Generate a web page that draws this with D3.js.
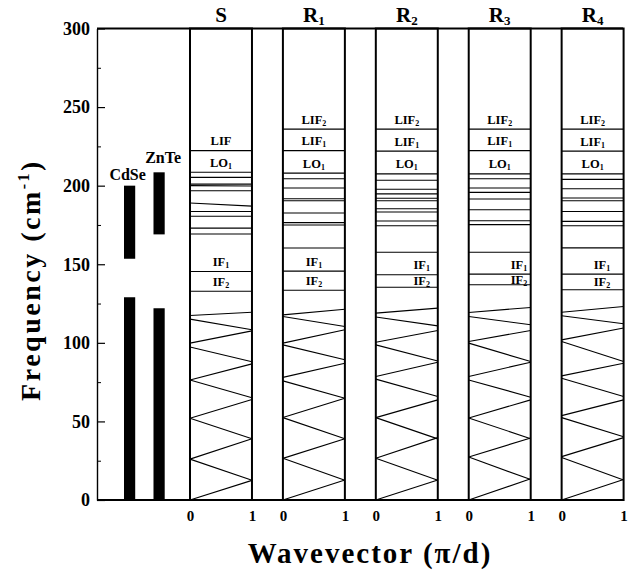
<!DOCTYPE html>
<html>
<head>
<meta charset="utf-8">
<script src="https://d3js.org/d3.v7.min.js"></script>
<style>
  body { margin: 0; background: #fff; }
  svg { font-family: "Liberation Serif", "Times New Roman", serif; font-weight: bold; }
</style>
</head>
<body>
<svg id="chart" width="631" height="574"></svg>
<script>
// ---- data ----
var panels = ["S", "R1", "R2", "R3", "R4"];
var panelTitles = [["S", ""], ["R", "1"], ["R", "2"], ["R", "3"], ["R", "4"]];

var yTicks = [0, 50, 100, 150, 200, 250, 300];
var yMinorTicks = [25, 75, 125, 175, 225, 275];
var kTicks = [0, 1];

// bulk optical bands (cm-1)
var bulkNames = ["CdSe", "ZnTe"];
var bulkCdSe = [[0, 129], [153.5, 200]];
var bulkZnTe = [[0, 122], [169, 208.5]];

// optical / interface modes: frequency at k=0 and k=1
var modesS = [[222.3, 222.3], [208.5, 208.5], [205.3, 205.3], [201, 201], [200, 199.8], [196.8, 196.8],
  [189, 187], [183.6, 183.6], [180.5, 180.5], [173, 173], [169.2, 169.2], [145.4, 145.4], [132.8, 132.8]];
var modesR1 = [[236, 236], [222.3, 222.3], [208, 208], [204.4, 204.4], [198.5, 198.5], [191.7, 191.7],
  [190.4, 190.4], [182.6, 182.6], [176.5, 176.5], [175, 175], [160.3, 160.3], [145.6, 145.6], [133.5, 133.5]];
var modesR2 = [[236, 236], [222, 222], [207.5, 207.5], [203.4, 203.4], [197.7, 197.7], [194.8, 194.8],
  [192, 192], [190.4, 190.4], [185.3, 185.3], [183.2, 183.2], [177.5, 177.5], [174.5, 174.5],
  [157.6, 157.6], [143.3, 143.3], [135.4, 135.4]];
var modesR3 = [[236, 236], [222.3, 222.3], [207.5, 207.5], [204.4, 204.4], [198.5, 198.5], [195.7, 195.7],
  [191.5, 191.5], [184.7, 184.7], [177.7, 177.7], [175.2, 175.2], [157.6, 157.6], [143.7, 143.7], [137, 137]];
var modesR4 = [[236, 236], [222, 222], [207.5, 207.5], [204, 204], [198, 198], [192.2, 192.2],
  [190.4, 190.4], [183.6, 183.6], [177.3, 177.3], [174.5, 174.5], [160.4, 160.4], [143.7, 143.7], [133.8, 133.8]];

// folded acoustic branches: frequency at k=0 and k=1
var acS = [[0, 12.5], [26, 12.5], [26, 39], [52, 39], [52, 64], [76.4, 65], [76.4, 86.6],
  [97.3, 88], [99.8, 107.6], [115.1, 108.3], [117.4, 119.5]];
var acR1 = [[0, 12.7], [26.5, 12.5], [26.5, 39], [52.4, 39], [52.5, 64.8], [75.8, 64.8], [78, 87],
  [98.7, 89.2], [99.8, 108.3], [116.8, 110.4], [117.8, 121.4]];
var acR2 = [[0, 12.7], [26.5, 12.5], [26.5, 39.7], [52.4, 38.9], [52.4, 63.7], [76.9, 65.8], [78.6, 87.7],
  [98.7, 88.5], [100.4, 107.9], [116.4, 110.8], [118.9, 122.1]];
var acR3 = [[0, 13.5], [27.3, 13], [27.3, 39.5], [52.2, 39], [52.2, 63.7], [76.4, 65.4], [78.6, 87.7],
  [99.8, 88.1], [100.8, 107.9], [116.8, 111.5], [119.3, 122.5]];
var acR4 = [[0, 13], [27, 12.7], [27.6, 39.7], [52.4, 40.3], [53.7, 63.7], [77.5, 65.8], [79, 87],
  [100.8, 88.1], [101.9, 109.4], [117.2, 112.1], [119.5, 123.1]];

// mode labels: [name, subscript, frequency of the labelled mode]
var labelsS = [["LIF", "", 222.3], ["LO", "1", 208.5], ["IF", "1", 145.4], ["IF", "2", 132.8]];
var labelsR1 = [["LIF", "2", 236], ["LIF", "1", 222.3], ["LO", "1", 208], ["IF", "1", 145.6], ["IF", "2", 133.5]];
var labelsR2 = [["LIF", "2", 236], ["LIF", "1", 222], ["LO", "1", 207.5], ["IF", "1", 143.3], ["IF", "2", 135.4]];
var labelsR3 = [["LIF", "2", 236], ["LIF", "1", 222.3], ["LO", "1", 207.5], ["IF", "1", 143.7], ["IF", "2", 137]];
var labelsR4 = [["LIF", "2", 236], ["LIF", "1", 222], ["LO", "1", 207.5], ["IF", "1", 143.7], ["IF", "2", 133.8]];

(function() {
  var modes = [modesS, modesR1, modesR2, modesR3, modesR4];
  var acoustic = [acS, acR1, acR2, acR3, acR4];
  var labels = [labelsS, labelsR1, labelsR2, labelsR3, labelsR4];
  var bulk = [bulkCdSe, bulkZnTe];
  var ifLabelPos = [0.5, 0.5, 0.74, 0.81, 0.65];   // horizontal place of IF labels in each panel
  var bulkLabelShift = [[-2, 6], [4, 9]];           // [dx, dy above band top] for CdSe / ZnTe
  var capH = 8.2;

  var mLeft = 97, mRight = 623, mTop = 28.5, mBottom = 500;
  var svg = d3.select("#chart");

  var y = d3.scaleLinear().domain([0, 300]).range([mBottom, mTop]);
  var px = d3.scaleBand().domain(panels).range([190, 623.6]).paddingInner(0.333).paddingOuter(0);
  var bx = d3.scaleBand().domain(bulkNames).range([124, 164.7]).paddingInner(0.62).paddingOuter(0);

  // frame lines
  svg.append("line").attr("x1", mLeft).attr("x2", mRight).attr("y1", mTop).attr("y2", mTop)
    .attr("stroke", "#000").attr("stroke-width", 2);
  svg.append("line").attr("x1", mLeft).attr("x2", mRight).attr("y1", mBottom).attr("y2", mBottom)
    .attr("stroke", "#000").attr("stroke-width", 1.8);

  // y axis
  var yAxis = d3.axisLeft(y).tickValues(yTicks).tickSizeInner(-8).tickSizeOuter(0).tickPadding(7);
  var ga = svg.append("g").attr("transform", "translate(" + mLeft + ",0)").call(yAxis);
  ga.attr("font-size", 18).attr("font-family", null);
  ga.select(".domain").attr("stroke-width", 1.4);
  ga.selectAll(".tick line").attr("stroke-width", 1.2);
  var gm = svg.append("g").attr("transform", "translate(" + mLeft + ",0)")
    .call(d3.axisLeft(y).tickValues(yMinorTicks).tickSizeInner(-4).tickSizeOuter(0).tickFormat(""));
  gm.select(".domain").remove();

  // bulk bands
  bulk.forEach(function(bands, i) {
    svg.selectAll(null).data(bands).enter().append("rect")
      .attr("x", bx(bulkNames[i]))
      .attr("width", bx.bandwidth())
      .attr("y", function(d) { return y(d[1]); })
      .attr("height", function(d) { return y(d[0]) - y(d[1]); })
      .attr("fill", "#000");
    svg.append("text")
      .attr("x", bx(bulkNames[i]) + bx.bandwidth() / 2 + bulkLabelShift[i][0])
      .attr("y", y(bands[1][1]) - bulkLabelShift[i][1])
      .attr("text-anchor", "middle")
      .attr("font-size", 16)
      .text(bulkNames[i]);
  });

  // panels
  panels.forEach(function(p, i) {
    var x0 = px(p), w = px.bandwidth();
    var k = d3.scaleLinear().domain([0, 1]).range([x0, x0 + w]);
    var g = svg.append("g");

    g.selectAll(".mode").data(modes[i]).enter().append("line")
      .attr("x1", k(0)).attr("x2", k(1))
      .attr("y1", function(d) { return y(d[0]); })
      .attr("y2", function(d) { return y(d[1]); })
      .attr("stroke", "#000").attr("stroke-width", 1.1);

    g.selectAll(".ac").data(acoustic[i]).enter().append("line")
      .attr("x1", k(0)).attr("x2", k(1))
      .attr("y1", function(d) { return y(d[0]); })
      .attr("y2", function(d) { return y(d[1]); })
      .attr("stroke", "#000").attr("stroke-width", 1.1);

    g.append("rect").attr("x", x0).attr("y", mTop).attr("width", w).attr("height", mBottom - mTop)
      .attr("fill", "none").attr("stroke", "#000").attr("stroke-width", 2);

    // label sits just above its mode line, squeezed when the next line above is close
    function labelY(f) {
      var above = modes[i].map(function(m) { return m[0]; }).filter(function(v) { return v > f; });
      var yl = y(f);
      var gap = above.length ? yl - y(d3.min(above)) : 99;
      return yl - Math.min(5.5, Math.max(1, (gap - capH) / 2));
    }
    var lt = g.selectAll(".lab").data(labels[i]).enter().append("text")
      .attr("x", function(d) { return d[0] == "IF" ? k(ifLabelPos[i]) : k(0.5); })
      .attr("y", function(d) { return labelY(d[2]); })
      .attr("text-anchor", "middle")
      .attr("font-size", 12.5);
    lt.append("tspan").text(function(d) { return d[0]; });
    lt.append("tspan").attr("font-size", 8).attr("dy", 2).text(function(d) { return d[1]; });

    var t = g.append("text").attr("x", k(0.5)).attr("y", 22).attr("text-anchor", "middle").attr("font-size", 21);
    t.append("tspan").text(panelTitles[i][0]);
    t.append("tspan").attr("font-size", 13).attr("dy", 3).text(panelTitles[i][1]);

    var xa = g.append("g").attr("transform", "translate(0," + mBottom + ")")
      .call(d3.axisBottom(k).tickValues(kTicks).tickSize(0).tickPadding(10).tickFormat(d3.format("d")));
    xa.attr("font-size", 15).attr("font-family", null);
    xa.select(".domain").remove();
  });

  // axis titles
  var yt = svg.append("text").attr("transform", "translate(40,280) rotate(-90)")
    .attr("text-anchor", "middle").attr("font-size", 28).attr("letter-spacing", 2.5);
  yt.append("tspan").text("Frequency  (cm");
  yt.append("tspan").attr("font-size", 16).attr("dy", -11).text("-1");
  yt.append("tspan").attr("dy", 11).text(")");

  svg.append("text").attr("x", 370).attr("y", 563).attr("text-anchor", "middle")
    .attr("font-size", 29).attr("letter-spacing", 2).text("Wavevector (\u03c0/d)");
})();
</script>
</body>
</html>
